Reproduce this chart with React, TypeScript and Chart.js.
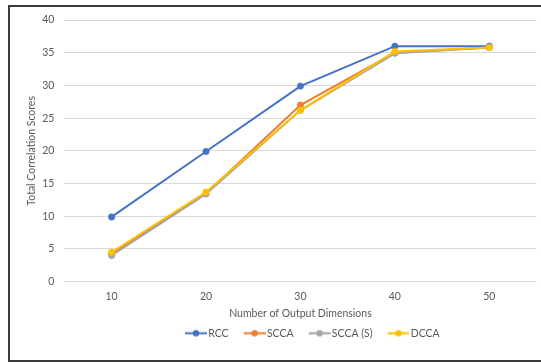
import React, { useEffect, useRef } from "react";
import { Chart, registerables } from "chart.js";

Chart.register(...registerables);

const categories = ["10", "20", "30", "40", "50"];
const seriesNames = ["RCC", "SCCA", "SCCA (S)", "DCCA"];
const rcc = [9.9, 19.9, 29.9, 36.0, 36.0];
const scca = [4.3, 13.5, 27.0, 35.0, 35.8];
const sccaS = [4.0, 13.4, 26.2, 34.9, 35.8];
const dcca = [4.5, 13.7, 26.2, 35.2, 35.8];
const colors = ["#4472C4", "#ED7D31", "#A5A5A5", "#FFC000"];
const yTicks = [0, 5, 10, 15, 20, 25, 30, 35, 40];

const FONT = "Lato, 'Noto Sans', sans-serif";
const FS = 10.5;
const TEXT = "#595959";

function makeIcon(color: string): HTMLCanvasElement {
  const c = document.createElement("canvas");
  c.width = 36;
  c.height = 9;
  const ctx = c.getContext("2d")!;
  ctx.strokeStyle = color;
  ctx.lineWidth = 2;
  ctx.beginPath();
  ctx.moveTo(14, 4.5);
  ctx.lineTo(36, 4.5);
  ctx.stroke();
  ctx.fillStyle = color;
  ctx.beginPath();
  ctx.arc(25, 4.5, 3.2, 0, Math.PI * 2);
  ctx.fill();
  return c;
}

export default function App() {
  const ref = useRef<HTMLCanvasElement | null>(null);
  useEffect(() => {
    if (!ref.current) return;
    const series = [rcc, scca, sccaS, dcca];
    const icons = colors.map(makeIcon);
    const legendShift = {
      id: "legendShift",
      afterLayout(chart: any) {
        const lg = chart.legend;
        if (!lg || !lg.lineWidths) return;
        const pad = lg.options.labels.padding;
        const startX = (lg.left + pad + lg.right - lg.lineWidths[0]) / 2;
        const shift = 175 - startX;
        lg.left += shift;
        lg.right += shift;
      },
    };
    const chart = new Chart(ref.current, {
      type: "line",
      data: {
        labels: categories,
        datasets: series.map((d, i) => ({
          label: seriesNames[i],
          data: d,
          borderColor: colors[i],
          backgroundColor: colors[i],
          borderWidth: 2,
          pointRadius: 3.2,
          pointBorderWidth: 0.5,
          pointBackgroundColor: colors[i],
          pointBorderColor: colors[i],
          tension: 0,
          order: 3 - i,
        })),
      },
      options: {
        animation: false,
        responsive: false,
        layout: { padding: { top: 20, left: 10, right: 3.4, bottom: 13.5 } },
        plugins: {
          tooltip: { enabled: false },
          legend: {
            position: "bottom",
            labels: {
              usePointStyle: true,
              pointStyleWidth: 28,
              padding: 5,
              color: TEXT,
              font: { family: FONT, size: FS },
              generateLabels: (c: any) =>
                c.data.datasets.map((ds: any, i: number) => ({
                  text: ds.label,
                  pointStyle: icons[i],
                  fillStyle: colors[i],
                  strokeStyle: colors[i],
                  lineWidth: 0,
                  fontColor: TEXT,
                  hidden: false,
                  datasetIndex: i,
                })),
            },
          },
        },
        scales: {
          x: {
            offset: true,
            grid: { display: false, drawTicks: false, offset: true },
            border: { display: false },
            ticks: { color: TEXT, font: { family: FONT, size: FS }, padding: 9 },
            title: {
              display: true,
              text: "Number of Output Dimensions",
              color: TEXT,
              font: { family: FONT, size: FS },
              padding: { top: -4.8, bottom: 2.9 },
            },
          },
          y: {
            min: 0,
            max: 40,
            afterFit: (s: any) => {
              s.width = 54.4;
            },
            afterBuildTicks: (s: any) => {
              s.ticks = yTicks.map((v) => ({ value: v }));
            },
            grid: { color: "#D9D9D9", lineWidth: 1, drawTicks: false },
            border: { display: false },
            ticks: { color: TEXT, font: { family: FONT, size: FS }, padding: 10 },
            title: {
              display: true,
              text: "Total Correlation Scores",
              color: TEXT,
              font: { family: FONT, size: FS },
              padding: { top: 15.5, bottom: 0 },
            },
          },
        },
      },
      plugins: [legendShift],
    });
    return () => chart.destroy();
  }, []);
  return (
    <div style={{ position: "fixed", left: 0, top: 0, width: 541, height: 362, overflow: "hidden", background: "#fff" }}>
      <canvas ref={ref} width={541} height={362} style={{ position: "absolute", left: 0, top: 0, width: 541, height: 362 }} />
      <div
        style={{
          position: "absolute",
          left: 8,
          top: 5,
          width: 545,
          height: 357,
          border: "2px solid #3a3a3a",
          boxSizing: "border-box",
          pointerEvents: "none",
        }}
      />
    </div>
  );
}
